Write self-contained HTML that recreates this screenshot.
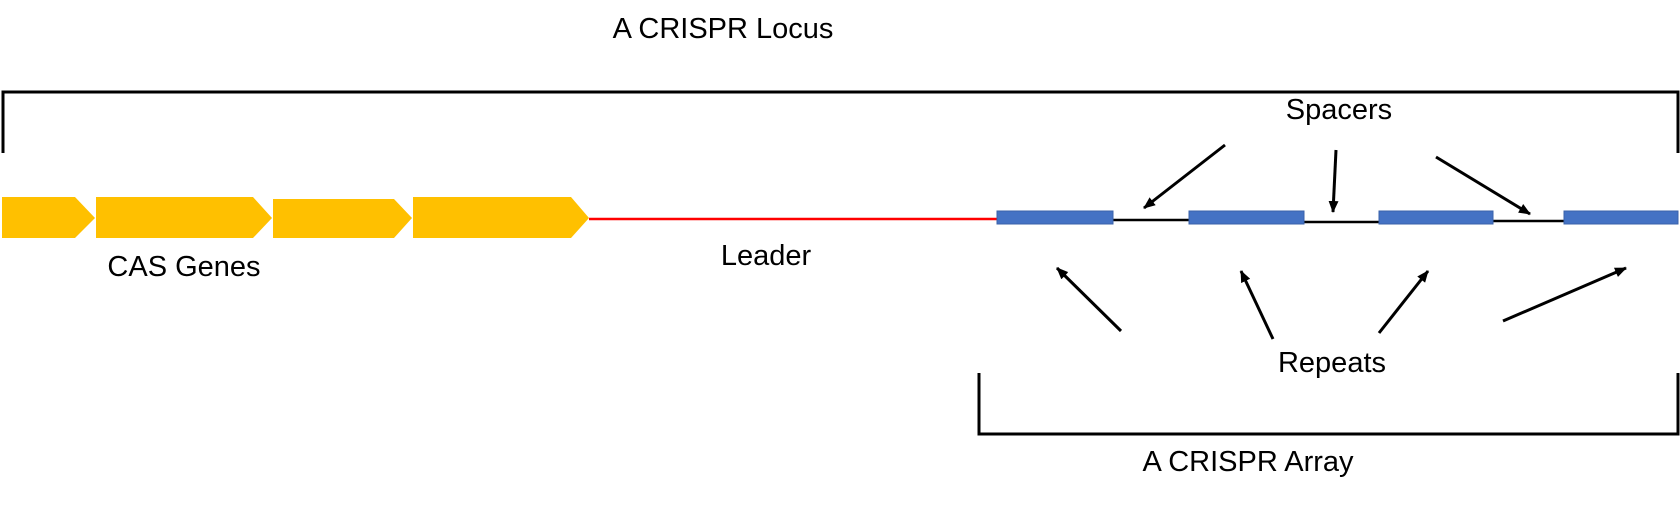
<!DOCTYPE html>
<html><head><meta charset="utf-8"><style>
html,body{margin:0;padding:0;background:#fff;}
svg{display:block;}
text{font-family:"Liberation Sans",Arial,sans-serif;font-size:29px;fill:#000;}
</style></head><body>
<svg width="1680" height="528" viewBox="0 0 1680 528" xmlns="http://www.w3.org/2000/svg">
<defs>
<marker id="a" viewBox="0 0 12 10" refX="11" refY="5" markerWidth="12" markerHeight="10" orient="auto" markerUnits="userSpaceOnUse"><path d="M0,0 L12,5 L0,10 Z" fill="#000"/></marker>
</defs>
<text x="723" y="38" text-anchor="middle">A CRISPR Locus</text>
<path d="M3,153 V92 H1678 V153" fill="none" stroke="#000" stroke-width="3"/>
<text x="1339" y="119" text-anchor="middle">Spacers</text>
<g fill="#FFC000">
<polygon points="2,197 75,197 95,218 75,238 2,238"/>
<polygon points="96,197 253,197 272,218 253,238 96,238"/>
<polygon points="273,199 394,199 412,218 394,238 273,238"/>
<polygon points="413,197 571,197 589,218 571,238 413,238"/>
</g>
<line x1="589" y1="219" x2="997" y2="219" stroke="#FF0000" stroke-width="2.5"/>
<text x="184" y="276" text-anchor="middle">CAS Genes</text>
<text x="766" y="265" text-anchor="middle">Leader</text>
<g stroke="#000" stroke-width="2.5">
<line x1="1112" y1="220" x2="1189" y2="220"/>
<line x1="1304" y1="222" x2="1379" y2="222"/>
<line x1="1493" y1="221" x2="1570" y2="221"/>
</g>
<g fill="#4472C4" stroke="#3A62AA" stroke-width="1">
<rect x="997" y="211" width="116" height="13"/>
<rect x="1189" y="211" width="115" height="13"/>
<rect x="1379" y="211" width="114" height="13"/>
<rect x="1564" y="211" width="114" height="13"/>
</g>
<g stroke="#000" stroke-width="3" marker-end="url(#a)">
<line x1="1225" y1="145" x2="1144" y2="208"/>
<line x1="1336" y1="150" x2="1333" y2="212"/>
<line x1="1436" y1="157" x2="1530" y2="214"/>
<line x1="1121" y1="331" x2="1057" y2="268"/>
<line x1="1273" y1="339" x2="1241" y2="271"/>
<line x1="1379" y1="333" x2="1428" y2="271"/>
<line x1="1503" y1="321" x2="1626" y2="268"/>
</g>
<text x="1332" y="372" text-anchor="middle">Repeats</text>
<path d="M979,373 V434 H1678 V373" fill="none" stroke="#000" stroke-width="3"/>
<text x="1248" y="471" text-anchor="middle">A CRISPR Array</text>
</svg>
</body></html>
